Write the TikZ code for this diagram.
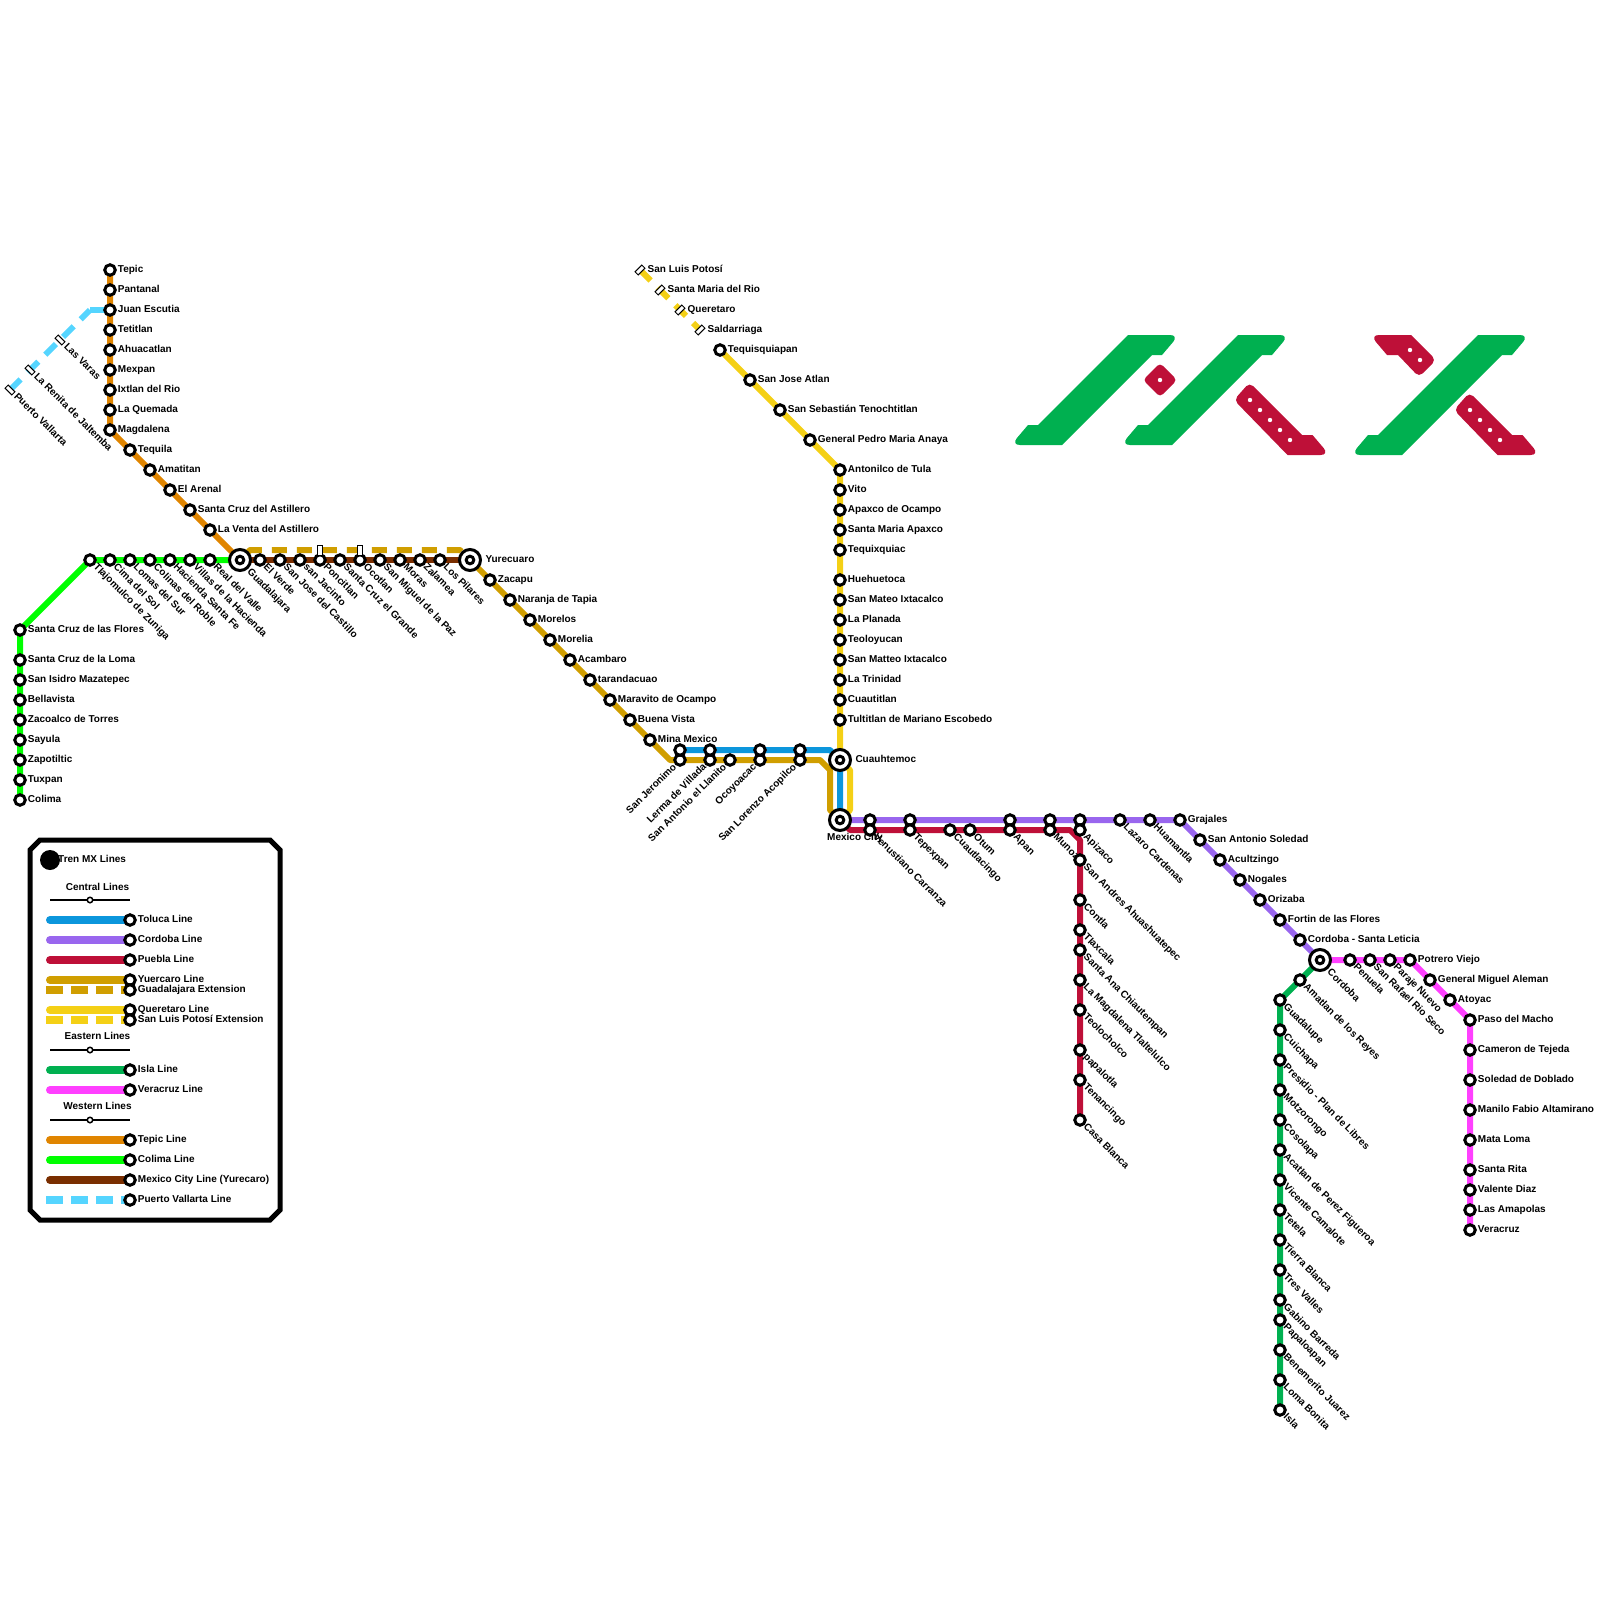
\documentclass[tikz,border=0pt]{standalone}
\usepackage{fontspec}
\setmainfont{Liberation Sans}
\usetikzlibrary{backgrounds}

\definecolor{tolblue}{HTML}{0C96DC}
\definecolor{corpurple}{HTML}{9966EE}
\definecolor{puered}{HTML}{BE1038}
\definecolor{yurgold}{HTML}{D09E00}
\definecolor{queyellow}{HTML}{F4D016}
\definecolor{islgreen}{HTML}{00B050}
\definecolor{vermagenta}{HTML}{FF40FF}
\definecolor{teporange}{HTML}{E08500}
\definecolor{collime}{HTML}{00FF00}
\definecolor{mxcbrown}{HTML}{7A2E00}
\definecolor{pvlcyan}{HTML}{55D5FF}

\begin{document}
\begin{tikzpicture}[
    x=1pt, y=-1pt,
    stn/.style={circle, draw=black, fill=white, line width=3pt, minimum size=10.5pt, inner sep=0pt},
    hub/.style={stn, minimum size=21pt,
        path picture={\draw[line width=3pt] (path picture bounding box.center) circle (3.8pt);}},
    tiny/.style={stn, line width=1.5pt, minimum size=5.5pt},
    tipne/.style={rectangle, draw=black, fill=white, line width=1pt, minimum width=9.5pt, minimum height=4.5pt, inner sep=0pt, rotate=45},
    tipnw/.style={tipne, rotate=-90},
    tipup/.style={rectangle, draw=black, fill=white, line width=1pt, minimum width=5pt, minimum height=10pt, inner sep=0pt},
    lbl/.style={font=\bfseries\fontsize{10}{12}\selectfont, inner sep=0pt, text height=7pt, text depth=2pt},
    rl/.style={label={[lbl, label distance=1pt]0:#1}},
    dl/.style={label={[lbl, label distance=1pt, rotate=-45, anchor=west]-45:#1}},
    ul/.style={label={[lbl, label distance=1pt, rotate=45, anchor=east]225:#1}},
    hrl/.style={label={[lbl, label distance=3.3pt]0:#1}},
    hdl/.style={label={[lbl, label distance=2.5pt, rotate=-45, anchor=west]-45:#1}},
    rail/.style={line width=6pt, line join=round},
    toluca/.style={rail, draw=tolblue},
    cordoba/.style={rail, draw=corpurple},
    puebla/.style={rail, draw=puered},
    yurecaro/.style={rail, draw=yurgold},
    guadext/.style={yurecaro, dash pattern=on 15pt off 10pt, dash phase=13.9pt},
    queretaro/.style={rail, draw=queyellow},
    slpext/.style={queretaro, dash pattern=on 15pt off 10pt},
    isla/.style={rail, draw=islgreen},
    veracruz/.style={rail, draw=vermagenta},
    tepicl/.style={rail, draw=teporange},
    colima/.style={rail, draw=collime},
    mexcity/.style={rail, draw=mxcbrown},
    pvallarta/.style={rail, draw=pvlcyan, dash pattern=on 15pt off 10pt},
    pvspur/.style={rail, draw=pvlcyan},
    keyline/.style={line width=8pt, line cap=round},
    keydash/.style={line width=8pt, line cap=butt, dash pattern=on 17.4pt off 7.6pt},
    headline/.style={draw=black, line width=1.7pt}
]
    \useasboundingbox (0,0) rectangle (1600,1600);

    \node[stn, rl=Tepic]         (tepic) at (110,270) {};
    \node[stn, rl=Pantanal]      (pantanal) at (110,290) {};
    \node[stn, rl=Juan Escutia]  (juanesc) at (110,310) {};
    \node[stn, rl=Tetitlan]      (tetitlan) at (110,330) {};
    \node[stn, rl=Ahuacatlan]    (ahuacat) at (110,350) {};
    \node[stn, rl=Mexpan]        (mexpan) at (110,370) {};
    \node[stn, rl=Ixtlan del Rio] (ixtlan) at (110,390) {};
    \node[stn, rl=La Quemada]    (quemada) at (110,410) {};
    \node[stn, rl=Magdalena]     (magdalena) at (110,430) {};
    \node[stn, rl=Tequila]       (tequila) at (130,450) {};
    \node[stn, rl=Amatitan]      (amatitan) at (150,470) {};
    \node[stn, rl=El Arenal]     (elarenal) at (170,490) {};
    \node[stn, rl=Santa Cruz del Astillero] (scastillero) at (190,510) {};
    \node[stn, rl=La Venta del Astillero]   (lventa) at (210,530) {};
    \node[hub, hdl=Guadalajara]  (guadalajara) at (240,560) {};

    \node[tipnw] (lasvaras) at (60,340) {};
    \node[tipnw] (larenita) at (30,370) {};
    \node[tipnw] (puertov) at (10,390) {};
    \node[lbl, rotate=-45, anchor=west] (lasvarastxt) at (65.3,345.3) {Las Varas};
    \node[lbl, rotate=-45, anchor=west] (larenitatxt) at (35.3,375.3) {La Renita de Jaltemba};
    \node[lbl, rotate=-45, anchor=west] (puertovtxt) at (15.3,395.3) {Puerto Vallarta};
    \coordinate (pvbend) at (90,310);

    \node[stn, dl=Tlajomulco de Zuniga] (tlajomulco) at (90,560) {};
    \node[stn, dl=Cima del Sol]      (cimasol) at (110,560) {};
    \node[stn, dl=Lomas del Sur]     (lomassur) at (130,560) {};
    \node[stn, dl=Colinas del Roble] (colinas) at (150,560) {};
    \node[stn, dl=Hacienda Santa Fe] (hacienda) at (170,560) {};
    \node[stn, dl=Villas de la Hacienda] (villas) at (190,560) {};
    \node[stn, dl=Real del Valle]    (realvalle) at (210,560) {};
    \node[stn, rl=Santa Cruz de las Flores] (scflores) at (20,630) {};
    \node[stn, rl=Santa Cruz de la Loma]    (scloma) at (20,660) {};
    \node[stn, rl=San Isidro Mazatepec]     (sanisidro) at (20,680) {};
    \node[stn, rl=Bellavista]        (bellavista) at (20,700) {};
    \node[stn, rl=Zacoalco de Torres] (zacoalco) at (20,720) {};
    \node[stn, rl=Sayula]            (sayula) at (20,740) {};
    \node[stn, rl=Zapotiltic]        (zapotiltic) at (20,760) {};
    \node[stn, rl=Tuxpan]            (tuxpan) at (20,780) {};
    \node[stn, rl=Colima]            (colimast) at (20,800) {};

    \node[stn, dl=El Verde]          (elverde) at (260,560) {};
    \node[stn, dl=San Jose del Castillo] (sjcastillo) at (280,560) {};
    \node[stn, dl=san Jacinto]       (sjacinto) at (300,560) {};
    \node[stn, dl=Poncitlan]         (poncitlan) at (320,560) {};
    \node[stn, dl=Santa Cruz el Grande] (scgrande) at (340,560) {};
    \node[stn, dl=Ocotlan]           (ocotlan) at (360,560) {};
    \node[stn, dl=San Miguel de la Paz] (smpaz) at (380,560) {};
    \node[stn, dl=Moras]             (moras) at (400,560) {};
    \node[stn, dl=Zalamea]           (zalamea) at (420,560) {};
    \node[stn, dl=Los Pilares]       (pilares) at (440,560) {};
    \node[hub, hrl=Yurecuaro]        (yurecuaro) at (470,560) {};
    \node[tipup] (ponctip) at (320,550) {};
    \node[tipup] (ocottip) at (360,550) {};
    \coordinate (gdbenda) at (250,550);
    \coordinate (gdbendb) at (460,550);

    \node[stn, rl=Zacapu]            (zacapu) at (490,580) {};
    \node[stn, rl=Naranja de Tapia]  (naranja) at (510,600) {};
    \node[stn, rl=Morelos]           (morelos) at (530,620) {};
    \node[stn, rl=Morelia]           (morelia) at (550,640) {};
    \node[stn, rl=Acambaro]          (acambaro) at (570,660) {};
    \node[stn, rl=tarandacuao]       (tarandac) at (590,680) {};
    \node[stn, rl=Maravito de Ocampo] (maravito) at (610,700) {};
    \node[stn, rl=Buena Vista]       (buenavista) at (630,720) {};
    \node[stn, rl=Mina Mexico]       (minamex) at (650,740) {};
    \coordinate (yurbenda) at (670,760);
    \node[stn, ul=San Jeronimo]      (sjeronimo) at (680,760) {};
    \node[stn, ul=Lerma de Villada]  (lerma) at (710,760) {};
    \node[stn, ul=San Antonio el Llanito] (llanito) at (730,760) {};
    \node[stn, ul=Ocoyoacac]         (ocoyoacac) at (760,760) {};
    \node[stn, ul=San Lorenzo Acopilco] (slorenzo) at (800,760) {};
    \coordinate (yurbendb) at (820,760);
    \coordinate (yurbendc) at (830,770);
    \coordinate (yurbendd) at (830,810);
    \node[stn] (sjeronimob) at (680,750) {};
    \node[stn] (lermab) at (710,750) {};
    \node[stn] (ocoyoacacb) at (760,750) {};
    \node[stn] (slorenzob) at (800,750) {};
    \coordinate (tolbend) at (830,750);

    \node[tipne] (slpotosi) at (640,270) {};
    \node[tipne] (smrio) at (660,290) {};
    \node[tipne] (queretarost) at (680,310) {};
    \node[tipne] (saldarriaga) at (700,330) {};
    \node[lbl, anchor=west] (slpotositxt) at (647.5,270) {San Luis Potosí};
    \node[lbl, anchor=west] (smriotxt) at (667.5,290) {Santa Maria del Rio};
    \node[lbl, anchor=west] (queretarotxt) at (687.5,310) {Queretaro};
    \node[lbl, anchor=west] (saldarriagatxt) at (707.5,330) {Saldarriaga};
    \node[stn, rl=Tequisquiapan]     (tequisq) at (720,350) {};
    \node[stn, rl=San Jose Atlan]    (sjatlan) at (750,380) {};
    \node[stn, rl=San Sebastián Tenochtitlan] (ssebastian) at (780,410) {};
    \node[stn, rl=General Pedro Maria Anaya]  (gpedro) at (810,440) {};
    \node[stn, rl=Antonilco de Tula] (antonilco) at (840,470) {};
    \node[stn, rl=Vito]              (vito) at (840,490) {};
    \node[stn, rl=Apaxco de Ocampo]  (apaxco) at (840,510) {};
    \node[stn, rl=Santa Maria Apaxco] (smapaxco) at (840,530) {};
    \node[stn, rl=Tequixquiac]       (tequixq) at (840,550) {};
    \node[stn, rl=Huehuetoca]        (huehuetoca) at (840,580) {};
    \node[stn, rl=San Mateo Ixtacalco] (smateo) at (840,600) {};
    \node[stn, rl=La Planada]        (laplanada) at (840,620) {};
    \node[stn, rl=Teoloyucan]        (teoloyucan) at (840,640) {};
    \node[stn, rl=San Matteo Ixtacalco] (smatteo) at (840,660) {};
    \node[stn, rl=La Trinidad]       (latrinidad) at (840,680) {};
    \node[stn, rl=Cuautitlan]        (cuautitlan) at (840,700) {};
    \node[stn, rl=Tultitlan de Mariano Escobedo] (tultitlan) at (840,720) {};
    \node[hub, hrl=Cuauhtemoc]       (cuauhtemoc) at (840,760) {};
    \coordinate (quebenda) at (850,770);
    \coordinate (quebendb) at (850,810);
    \node[hub]                       (mexicocity) at (840,820) {};
    \node[lbl, anchor=west] (mexicocitytxt) at (827,838) {Mexico City};

    \node[stn] (venustb) at (870,820) {};
    \node[stn] (tepexpanb) at (910,820) {};
    \node[stn] (apanb) at (1010,820) {};
    \node[stn] (munozb) at (1050,820) {};
    \node[stn] (apizacob) at (1080,820) {};
    \node[stn, dl=Lazaro Cardenas]   (lazaro) at (1120,820) {};
    \node[stn, dl=Huamantla]         (huamantla) at (1150,820) {};
    \node[stn, rl=Grajales]          (grajales) at (1180,820) {};
    \node[stn, rl=San Antonio Soledad] (sasoledad) at (1200,840) {};
    \node[stn, rl=Acultzingo]        (acultzingo) at (1220,860) {};
    \node[stn, rl=Nogales]           (nogales) at (1240,880) {};
    \node[stn, rl=Orizaba]           (orizaba) at (1260,900) {};
    \node[stn, rl=Fortin de las Flores] (fortin) at (1280,920) {};
    \node[stn, rl=Cordoba - Santa Leticia] (csleticia) at (1300,940) {};
    \node[hub, hdl=Cordoba]          (cordobast) at (1320,960) {};

    \coordinate (puebenda) at (850,830);
    \node[stn, dl=Venustiano Carranza] (venust) at (870,830) {};
    \node[stn, dl=Tepexpan]          (tepexpan) at (910,830) {};
    \node[stn, dl=Cuautlacingo]      (cuautlac) at (950,830) {};
    \node[stn, dl=Otum]              (otum) at (970,830) {};
    \node[stn, dl=Apan]              (apan) at (1010,830) {};
    \node[stn, dl=Munoz]             (munoz) at (1050,830) {};
    \node[stn, dl=Apizaco]           (apizaco) at (1080,830) {};
    \coordinate (puebendb) at (1070,830);
    \coordinate (puebendc) at (1080,840);
    \node[stn, dl=San Andres Ahuashuatepec] (sandres) at (1080,860) {};
    \node[stn, dl=Contla]            (contla) at (1080,900) {};
    \node[stn, dl=Tlaxcala]          (tlaxcala) at (1080,930) {};
    \node[stn, dl=Santa Ana Chiautempan] (santaana) at (1080,950) {};
    \node[stn, dl=La Magdalena Tlaltelulco] (lamagdal) at (1080,980) {};
    \node[stn, dl=Teolocholco]       (teolocholco) at (1080,1010) {};
    \node[stn, dl=papalotla]         (papalotla) at (1080,1050) {};
    \node[stn, dl=Tenancingo]        (tenancingo) at (1080,1080) {};
    \node[stn, dl=Casa Blanca]       (casablanca) at (1080,1120) {};

    \node[stn, dl=Amatlan de los Reyes] (amatlan) at (1300,980) {};
    \node[stn, dl=Guadalupe]         (guadalupe) at (1280,1000) {};
    \node[stn, dl=Cuichapa]          (cuichapa) at (1280,1030) {};
    \node[stn, dl=Presidio - Plan de Libres] (presidio) at (1280,1060) {};
    \node[stn, dl=Motzorongo]        (motzorongo) at (1280,1090) {};
    \node[stn, dl=Cosolapa]          (cosolapa) at (1280,1120) {};
    \node[stn, dl=Acatlan de Perez Figueroa] (acatlan) at (1280,1150) {};
    \node[stn, dl=Vicente Camalote]  (vicente) at (1280,1180) {};
    \node[stn, dl=Tetela]            (tetela) at (1280,1210) {};
    \node[stn, dl=Tierra Blanca]     (tierrab) at (1280,1240) {};
    \node[stn, dl=Tres Valles]       (tresvalles) at (1280,1270) {};
    \node[stn, dl=Gabino Barreda]    (gabino) at (1280,1300) {};
    \node[stn, dl=Papaloapan]        (papaloapan) at (1280,1320) {};
    \node[stn, dl=Benemerito Juarez] (benemerito) at (1280,1350) {};
    \node[stn, dl=Loma Bonita]       (lomabonita) at (1280,1380) {};
    \node[stn, dl=Isla]              (islast) at (1280,1410) {};

    \node[stn, dl=Penuela]           (penuela) at (1350,960) {};
    \node[stn, dl=San Rafael Rio Seco] (srafael) at (1370,960) {};
    \node[stn, dl=Paraje Nuevo]      (paraje) at (1390,960) {};
    \node[stn, rl=Potrero Viejo]     (potrero) at (1410,960) {};
    \node[stn, rl=General Miguel Aleman] (gmiguel) at (1430,980) {};
    \node[stn, rl=Atoyac]            (atoyac) at (1450,1000) {};
    \node[stn, rl=Paso del Macho]    (pasomacho) at (1470,1020) {};
    \node[stn, rl=Cameron de Tejeda] (cameron) at (1470,1050) {};
    \node[stn, rl=Soledad de Doblado] (soledad) at (1470,1080) {};
    \node[stn, rl=Manilo Fabio Altamirano] (manilo) at (1470,1110) {};
    \node[stn, rl=Mata Loma]         (mataloma) at (1470,1140) {};
    \node[stn, rl=Santa Rita]        (santarita) at (1470,1170) {};
    \node[stn, rl=Valente Diaz]      (valente) at (1470,1190) {};
    \node[stn, rl=Las Amapolas]      (amapolas) at (1470,1210) {};
    \node[stn, rl=Veracruz]          (veracruzst) at (1470,1230) {};

    \node[circle, fill=black, minimum size=20pt, inner sep=0pt] (keydot) at (50,860) {};
    \node[lbl, anchor=west] (keytitle) at (58,860) {Tren MX Lines};
    \node[lbl] (keycentral) at (97.5,888) {Central Lines};
    \node[tiny] (keycentralst) at (90,900) {};
    \coordinate (keycentrala) at (50,900);
    \coordinate (keycentralb) at (130,900);
    \node[lbl] (keyeastern) at (97.5,1037) {Eastern Lines};
    \node[tiny] (keyeasternst) at (90,1050) {};
    \coordinate (keyeasterna) at (50,1050);
    \coordinate (keyeasternb) at (130,1050);
    \node[lbl] (keywestern) at (97.5,1107) {Western Lines};
    \node[tiny] (keywesternst) at (90,1120) {};
    \coordinate (keywesterna) at (50,1120);
    \coordinate (keywesternb) at (130,1120);

    \node[stn, rl=Toluca Line]   (ktol) at (130,920) {};
    \node[stn, rl=Cordoba Line]  (kcor) at (130,940) {};
    \node[stn, rl=Puebla Line]   (kpue) at (130,960) {};
    \node[stn, rl=Yuercaro Line] (kyur) at (130,980) {};
    \node[stn, rl=Guadalajara Extension] (kgua) at (130,990) {};
    \node[stn, rl=Queretaro Line] (kque) at (130,1010) {};
    \node[stn, rl=San Luis Potosí Extension] (kslp) at (130,1020) {};
    \node[stn, rl=Isla Line]     (kisl) at (130,1070) {};
    \node[stn, rl=Veracruz Line] (kver) at (130,1090) {};
    \node[stn, rl=Tepic Line]    (ktep) at (130,1140) {};
    \node[stn, rl=Colima Line]   (kcol) at (130,1160) {};
    \node[stn, rl=Mexico City Line (Yurecaro)] (kmxc) at (130,1180) {};
    \node[stn, rl=Puerto Vallarta Line] (kpvl) at (130,1200) {};
    \coordinate (ktola) at (50,920);
    \coordinate (kcora) at (50,940);
    \coordinate (kpuea) at (50,960);
    \coordinate (kyura) at (50,980);
    \coordinate (kguaa) at (46,990);
    \coordinate (kquea) at (50,1010);
    \coordinate (kslpa) at (46,1020);
    \coordinate (kisla) at (50,1070);
    \coordinate (kvera) at (50,1090);
    \coordinate (ktepa) at (50,1140);
    \coordinate (kcola) at (50,1160);
    \coordinate (kmxca) at (50,1180);
    \coordinate (kpvla) at (46,1200);

    \begin{scope}[on background layer]
        \draw[line width=5pt] (40,840) -- (270,840) -- (280,850) -- (280,1210) -- (270,1220)
            -- (40,1220) -- (30,1210) -- (30,850) -- cycle;
        \draw[headline] (keycentrala) -- (keycentralst.center) -- (keycentralb);
        \draw[headline] (keyeasterna) -- (keyeasternst.center) -- (keyeasternb);
        \draw[headline] (keywesterna) -- (keywesternst.center) -- (keywesternb);
        \draw[toluca, keyline] (ktola) -- (ktol.center);
        \draw[cordoba, keyline] (kcora) -- (kcor.center);
        \draw[puebla, keyline] (kpuea) -- (kpue.center);
        \draw[yurecaro, keyline] (kyura) -- (kyur.center);
        \draw[yurecaro, keydash] (kguaa) -- (kgua.center);
        \draw[queretaro, keyline] (kquea) -- (kque.center);
        \draw[queretaro, keydash] (kslpa) -- (kslp.center);
        \draw[isla, keyline] (kisla) -- (kisl.center);
        \draw[veracruz, keyline] (kvera) -- (kver.center);
        \draw[tepicl, keyline] (ktepa) -- (ktep.center);
        \draw[colima, keyline] (kcola) -- (kcol.center);
        \draw[mexcity, keyline] (kmxca) -- (kmxc.center);
        \draw[pvallarta, keydash] (kpvla) -- (kpvl.center);

        \draw[tepicl] (tepic.center) -- (pantanal.center) -- (juanesc.center) -- (tetitlan.center) -- (ahuacat.center)
            -- (mexpan.center) -- (ixtlan.center) -- (quemada.center) -- (magdalena.center) -- (tequila.center)
            -- (amatitan.center) -- (elarenal.center) -- (scastillero.center) -- (lventa.center) -- (guadalajara.center);
        \draw[pvallarta] (puertov.center) -- (larenita.center) -- (lasvaras.center) -- (pvbend);
        \draw[pvspur] (pvbend) -- (juanesc.center);
        \draw[colima] (colimast.center) -- (tuxpan.center) -- (zapotiltic.center) -- (sayula.center) -- (zacoalco.center)
            -- (bellavista.center) -- (sanisidro.center) -- (scloma.center) -- (scflores.center) -- (tlajomulco.center)
            -- (cimasol.center) -- (lomassur.center) -- (colinas.center) -- (hacienda.center) -- (villas.center)
            -- (realvalle.center) -- (guadalajara.center);
        \draw[mexcity] (guadalajara.center) -- (elverde.center) -- (sjcastillo.center) -- (sjacinto.center) -- (poncitlan.center)
            -- (scgrande.center) -- (ocotlan.center) -- (smpaz.center) -- (moras.center) -- (zalamea.center)
            -- (pilares.center) -- (yurecuaro.center);
        \draw[guadext] (guadalajara.center) -- (gdbenda) -- (ponctip.center) -- (ocottip.center) -- (gdbendb) -- (yurecuaro.center);
        \draw[yurecaro] (yurecuaro.center) -- (zacapu.center) -- (naranja.center) -- (morelos.center) -- (morelia.center)
            -- (acambaro.center) -- (tarandac.center) -- (maravito.center) -- (buenavista.center) -- (minamex.center)
            -- (yurbenda) -- (sjeronimo.center) -- (lerma.center) -- (llanito.center) -- (ocoyoacac.center)
            -- (slorenzo.center) -- (yurbendb) -- (yurbendc) -- (yurbendd) -- (mexicocity.center);
        \draw[slpext] (slpotosi.center) -- (smrio.center) -- (queretarost.center) -- (saldarriaga.center);
        \draw[queretaro] (tequisq.center) -- (sjatlan.center) -- (ssebastian.center) -- (gpedro.center) -- (antonilco.center)
            -- (vito.center) -- (apaxco.center) -- (smapaxco.center) -- (tequixq.center) -- (huehuetoca.center)
            -- (smateo.center) -- (laplanada.center) -- (teoloyucan.center) -- (smatteo.center) -- (latrinidad.center)
            -- (cuautitlan.center) -- (tultitlan.center) -- (cuauhtemoc.center) -- (quebenda) -- (quebendb) -- (mexicocity.center);
        \draw[toluca] (sjeronimob.center) -- (lermab.center) -- (ocoyoacacb.center) -- (slorenzob.center) -- (tolbend)
            -- (cuauhtemoc.center) -- (mexicocity.center);
        \draw[puebla] (mexicocity.center) -- (puebenda) -- (venust.center) -- (tepexpan.center) -- (cuautlac.center)
            -- (otum.center) -- (apan.center) -- (munoz.center) -- (puebendb) -- (puebendc) -- (sandres.center)
            -- (contla.center) -- (tlaxcala.center) -- (santaana.center) -- (lamagdal.center) -- (teolocholco.center)
            -- (papalotla.center) -- (tenancingo.center) -- (casablanca.center);
        \draw[cordoba] (mexicocity.center) -- (venustb.center) -- (tepexpanb.center) -- (apanb.center) -- (munozb.center)
            -- (apizacob.center) -- (lazaro.center) -- (huamantla.center) -- (grajales.center) -- (sasoledad.center)
            -- (acultzingo.center) -- (nogales.center) -- (orizaba.center) -- (fortin.center) -- (csleticia.center)
            -- (cordobast.center);
        \draw[isla] (cordobast.center) -- (amatlan.center) -- (guadalupe.center) -- (cuichapa.center) -- (presidio.center)
            -- (motzorongo.center) -- (cosolapa.center) -- (acatlan.center) -- (vicente.center) -- (tetela.center)
            -- (tierrab.center) -- (tresvalles.center) -- (gabino.center) -- (papaloapan.center) -- (benemerito.center)
            -- (lomabonita.center) -- (islast.center);
        \draw[veracruz] (cordobast.center) -- (penuela.center) -- (srafael.center) -- (paraje.center) -- (potrero.center)
            -- (gmiguel.center) -- (atoyac.center) -- (pasomacho.center) -- (cameron.center) -- (soledad.center)
            -- (manilo.center) -- (mataloma.center) -- (santarita.center) -- (valente.center) -- (amapolas.center)
            -- (veracruzst.center);
    \end{scope}

    \fill[islgreen] (1128,335) [rounded corners=9pt] -- (1179,335) [sharp corners] -- (1162,355) -- (1152,355) -- (1062,445)
        [rounded corners=9pt] -- (1011,445) [sharp corners] -- (1028,425) -- (1038,425) -- cycle;
    \fill[islgreen] (1238,335) [rounded corners=9pt] -- (1289,335) [sharp corners] -- (1272,355) -- (1262,355) -- (1172,445)
        [rounded corners=9pt] -- (1121,445) [sharp corners] -- (1138,425) -- (1148,425) -- cycle;
    \fill[islgreen] (1478,335) [rounded corners=9pt] -- (1529,335) [sharp corners] -- (1512,355) -- (1502,355) -- (1402,455)
        [rounded corners=9pt] -- (1351,455) [sharp corners] -- (1368,435) -- (1378,435) -- cycle;
    \fill[puered, rounded corners=4pt] (1160,363) -- (1177,380) -- (1160,397) -- (1143,380) -- cycle;
    \fill[puered] (1302,435) -- (1312.5,435) [rounded corners=9pt] -- (1329.5,455) [sharp corners] -- (1287.5,455)
        [rounded corners=5pt] -- (1234,400) -- (1249.5,382.5) [sharp corners] -- cycle;
    \fill[puered] (1512,435) -- (1522.5,435) [rounded corners=9pt] -- (1539.5,455) [sharp corners] -- (1497.5,455)
        [rounded corners=5pt] -- (1454,410) -- (1469.5,392.5) [sharp corners] -- cycle;
    \fill[puered] (1411,335) [rounded corners=5pt] -- (1436,360) -- (1419,377) [sharp corners] -- (1398,355) -- (1387,355)
        [rounded corners=9pt] -- (1370,335) [sharp corners] -- cycle;
    \fill[white] (1160,380) circle (2.2pt) (1250,400) circle (2.2pt) (1260,410) circle (2.2pt) (1270,420) circle (2.2pt)
        (1280,430) circle (2.2pt) (1290,440) circle (2.2pt) (1410,350) circle (2.2pt) (1420,360) circle (2.2pt)
        (1470,410) circle (2.2pt) (1480,420) circle (2.2pt) (1490,430) circle (2.2pt) (1500,440) circle (2.2pt);
\end{tikzpicture}
\end{document}
